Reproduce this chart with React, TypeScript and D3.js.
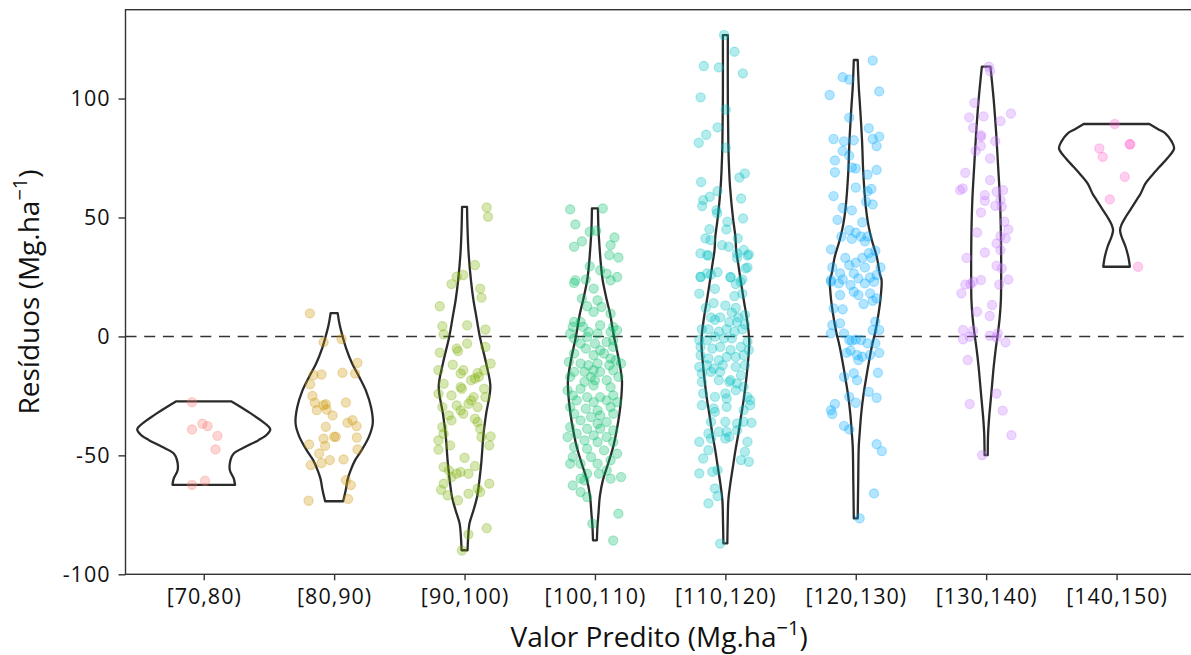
import { useEffect, useRef } from "react";
import * as d3 from "d3";

const categories = ["[70,80)", "[80,90)", "[90,100)", "[100,110)", "[110,120)", "[120,130)", "[130,140)", "[140,150)"];
const palette = ["#F8766D", "#CD9600", "#7CAE00", "#00BE67", "#00BFC4", "#00A9FF", "#C77CFF", "#FF61CC"];
const yTicks = [-100, -50, 0, 50, 100];

// violin outlines: [residual, half width in % of a category step]
const violin70 = [[-27.3, 21], [-29.6, 28], [-33.1, 38], [-36.6, 47], [-39.1, 51], [-41.5, 48], [-43.6, 42], [-46.4, 32], [-49.2, 23], [-52, 20.5], [-56.2, 20], [-59.7, 23], [-62.4, 24]];
const violin80 = [[9.8, 2.7], [5, 4.2], [0, 6.5], [-5, 9.2], [-11.4, 13.8], [-17, 19.2], [-22.6, 24.2], [-30, 28.4], [-36.6, 29.6], [-42, 26.8], [-47.8, 21.1], [-52, 16.1], [-56.2, 12.7], [-60, 10.4], [-64.6, 8.9], [-69.3, 6.9]];
const violin90 = [[54.5, 1.9], [45, 2.3], [35, 3.1], [23.7, 4.9], [15, 6.9], [9.7, 8.6], [0, 11.7], [-11.4, 16.6], [-21.2, 19.8], [-32.4, 16.6], [-40.8, 14.6], [-53.4, 12.8], [-60, 11.5], [-67.5, 9.6], [-73, 6.9], [-78.6, 3.8], [-85, 2.7], [-89.9, 2.3]];
const violin100 = [[53.8, 2.3], [45, 2.7], [37.7, 3.5], [30, 4.6], [23.7, 5.9], [15, 9.2], [9.7, 11.5], [0, 14.6], [-10, 18.4], [-18.4, 20.7], [-25, 20.3], [-32.4, 18.8], [-40, 16.5], [-46.4, 14], [-53, 10.4], [-60.4, 6.1], [-67, 3.8], [-74.4, 2.7], [-80, 1.9], [-85.7, 1.5]];
const violin110 = [[126.7, 1.9], [100, 1.9], [80, 2.3], [70, 2.9], [62.9, 3.6], [50, 5.8], [41.9, 7.7], [36.3, 8.3], [30, 10], [22.3, 12.1], [15, 14.2], [8.2, 16.3], [-1.6, 18.3], [-12.8, 17], [-20, 15.6], [-26.8, 14], [-34, 11.9], [-40.8, 10], [-48, 7.7], [-54.8, 5.8], [-62, 3.8], [-68.8, 2.3], [-78, 1.8], [-87, 1.5]];
const violin120 = [[116.2, 1.5], [105, 2.3], [96.6, 3.3], [82.5, 4.8], [68.5, 5.8], [54.5, 7.7], [47, 9.6], [40.5, 12.3], [33.5, 16.1], [26.5, 18.4], [23.7, 19.8], [17, 19.2], [9.7, 17.5], [2, 15], [-4.3, 12.3], [-11, 10], [-18.4, 7.7], [-25, 5.8], [-32.4, 4.2], [-40, 3.1], [-46.4, 2.3], [-60.4, 1.9], [-76.5, 1.5]];
const violin130 = [[113.4, 3.3], [99.3, 5.8], [85.3, 7.7], [71.3, 9.2], [57.3, 10.6], [43.3, 11.3], [29.3, 11.5], [15.3, 11.3], [8, 10.4], [1.3, 9], [-5, 7.4], [-12.7, 5.8], [-20, 4.6], [-26.8, 3.5], [-34, 2.3], [-40.8, 1.5], [-49.9, 1.2]];
const violin140 = [[89.3, 25.2], [87, 32.2], [85.3, 37.6], [82, 42.2], [79, 44.1], [75, 39.1], [71.3, 33], [68, 27.6], [64.3, 22.2], [60, 18.4], [57.3, 15.3], [54, 11.5], [50.3, 7.1], [47, 3.8], [44.7, 2.7], [42, 3.8], [37.7, 6.9], [33, 9.2], [29.3, 10.2]];

// jittered residuals: [horizontal jitter in % of a category step, residual]
const pts70 = [[-9, -27.6], [-9, -39.1], [-1, -36.7], [3, -37.7], [10.5, -41.8], [9, -47.5], [1, -60.7], [-9, -62.4]];
const pts80 = [[-18.6, 9.7], [-8.1, -2.4], [5.7, -1.1], [17.9, -11.1], [-15.8, -16.3], [-9.7, -16], [6.4, -15.3], [16.1, -15.6], [-18.4, -20.1], [-16.6, -25], [-14.8, -27.9], [-8.1, -28.9], [-6.4, -28.5], [-5.8, -30.7], [-13.3, -31], [9, -27.8], [-1.2, -33.2], [14.1, -35.2], [10.3, -36.3], [17.2, -37.7], [-6.4, -38], [0, -42.2], [1.3, -42.2], [-8.1, -43], [17.4, -42.5], [-19.2, -45.4], [-6.9, -46], [17.9, -47.5], [-11.5, -49.2], [-3.3, -52], [-9.7, -53.2], [7.2, -51.7], [-17.9, -54.1], [9, -60.4], [12.8, -62.5], [-19.6, -69.1], [10.7, -68.3]];
const pts90 = [[17, 54.2], [18, 50.3], [8, 30], [-6, 25.1], [-10, 22], [-1, 25.8], [12, 20.1], [13, 16.3], [-19, 12.7], [-17, 4.3], [-16, 0.9], [2, 4.7], [16, 2.9], [2, -3], [-6, -5.1], [-5, -6.2], [16, -4.4], [-19, -6.8], [20, -11.4], [-9, -11.9], [-20, -14.2], [-1, -14.2], [-3, -15.6], [10, -15.4], [5, -18.4], [8, -17.7], [11, -17], [15, -14.2], [-16, -19.9], [-3, -21.3], [-2, -22], [15, -22], [16, -25.5], [-20, -24.1], [-10, -24.8], [5, -26.9], [7, -25.5], [3, -28.3], [-17, -29.7], [-6, -29], [-3, -31.1], [10, -29.7], [-1, -32.5], [-12, -33.2], [-10, -35.3], [8, -34.6], [10, -36], [-17, -38.1], [12, -38.8], [20, -42], [-16, -40.9], [13, -42.3], [-20, -43.7], [-20, -47.6], [-11, -45.8], [19, -45.8], [0, -51], [8, -54.5], [-16, -54.9], [-12, -56.3], [-6, -57.7], [-3, -57], [3, -57.7], [-10, -59.1], [-16, -61.9], [19, -61.9], [-18, -64.5], [10, -64], [12, -65.4], [-13, -66.8], [3, -66.1], [-5, -68.9], [17, -80.6], [3, -83.2], [-2, -90]];
const pts100 = [[-19, 53.4], [6, 53.8], [-15, 47.1], [-4, 44], [1, 44.4], [-10, 40], [-16, 37.7], [15, 41.6], [12, 38.4], [11, 34.2], [18, 33.2], [-4, 29.5], [4, 27.8], [9, 26.4], [17, 25], [-15, 23.6], [-7, 23.9], [-16, 22.5], [12, 23.6], [-1, 20.1], [-10, 15.9], [2, 15.2], [-6, 12.7], [5, 12.4], [-1, 10.3], [12, 9.6], [-16, 6.1], [-11, 6.1], [-17, 4], [-9, 4], [4, 4.7], [14, 4], [-5, 1.9], [2, 1.2], [12, 1.9], [17, 2.6], [-19, 1.2], [-16, -0.9], [-6, -0.2], [-11, -3], [0, -3], [9, -2.3], [14, -1.6], [-7, -5.1], [4, -5.8], [14, -4.4], [-16, -7.2], [-1, -7.9], [7, -7.2], [12, -9.3], [16, -10], [-20, -10.7], [-11, -11.4], [-5, -12.1], [2, -11.4], [11, -12.1], [20, -11.4], [-16, -14.9], [-8, -14.9], [-1, -14.2], [4, -14.9], [14, -14.2], [-19, -17], [-3, -17], [0, -18.4], [-8, -19.1], [9, -18.4], [18, -17], [-21, -22.7], [-11, -22], [-1, -20.6], [12, -21.3], [-17, -24.8], [-6, -25.5], [4, -25.5], [14, -24.8], [-14, -26.9], [-1, -27.6], [9, -26.9], [17, -27.6], [-19, -29.7], [-7, -30.4], [2, -31.1], [12, -29.7], [-16, -32.5], [-3, -33.9], [4, -33.2], [14, -32.5], [-11, -35.3], [2, -36.7], [9, -36], [-19, -38.1], [-6, -38.8], [4, -38.8], [14, -39.5], [-14, -40.9], [-1, -41.6], [9, -42.3], [-21, -42.3], [-8, -43.7], [2, -44.4], [14, -44.4], [-16, -46.5], [-6, -47.2], [7, -47.9], [17, -49.3], [-17, -50.7], [-3, -50.7], [12, -52.1], [-11, -53.5], [2, -53.5], [-19, -53.5], [9, -56.3], [-6, -57.7], [3, -57.7], [-11, -59.8], [-17, -62.6], [-8, -60.5], [12, -59.8], [20, -59.1], [-11, -65.4], [-6, -67.5], [-2, -78.7], [18, -74.5], [14, -85.8]];
const pts110 = [[-1, 126.7], [7, 119.7], [-16.5, 113.7], [-5, 113.1], [13.4, 110.6], [-19, 100.5], [0.3, 95.4], [-6, 87.9], [-14.7, 84.8], [-20.4, 81.4], [0.3, 79.3], [10.8, 66.8], [14.9, 68.5], [-18.6, 64.9], [-6, 61.1], [-12, 58.7], [-17, 57.3], [-17.8, 54.8], [12.1, 58], [-6.8, 53.1], [-6.3, 51.7], [13.6, 49.6], [1.6, 48.2], [-12.2, 45.1], [0.8, 45], [-15.3, 41.2], [-11.4, 40.5], [9.5, 41.2], [-2.5, 38.4], [2.6, 37.7], [-19.1, 34.9], [14.1, 36.3], [18, 34.5], [-14, 34.2], [9, 34.9], [15.4, 28.6], [-19, 25.1], [-14, 26.5], [4, 24.8], [11.6, 23],
  [-13, 34], [17, 34], [9, 33], [17, 29], [-19, 25], [-11, 26], [-6, 27], [4, 25], [13, 24], [8, 22], [-20, 18], [-8, 20], [7, 17], [13, 18], [-15, 12], [-9, 14], [0, 13], [8, 12], [5, 10], [10, 8], [15, 9], [-11, 8], [-8, 7], [-4, 8], [3, 6], [9, 6], [15, 5], [-18, 3], [-13, 3], [-5, 2], [1, 3], [7, 2], [13, 3], [-20, -1.5], [-14, -1.5], [-8, -0.1], [-1, -0.8], [5, -0.8], [17, -2.2], [-19, -4.4], [-10, -5.1], [-4, -4.4], [4, -5.7], [12, -4.4], [18, -5.7], [-19, -7.9], [-13, -9.3], [-5, -10], [1, -8.6], [8, -8.6], [14, -7.9], [-20, -12.8], [-14, -12.1], [-9, -13.5], [-2, -12.1], [8, -12.8], [15, -12.1], [-18, -15.6], [-11, -14.9], [-4, -14.9], [4, -18.4], [12, -16.3], [-18, -19.1], [-5, -18.4], [3, -19.1], [9, -19.8], [14, -21.2], [-17, -24], [-8, -25.4], [0, -24], [1, -26.1], [8, -22.6], [17, -25.4], [19, -26.8], [-18, -28.9], [-9, -30.3], [-8, -31.7], [1, -29.6], [14, -31], [19, -28.9], [-11, -35.9], [0, -35.9], [9, -36.6], [14, -35.9], [20, -36.3], [-13, -40.8], [-5, -40.1], [1, -40.1], [9, -39.4], [-20, -44.3], [-11, -42.9], [0, -42.9], [3, -42.2], [17, -44.3], [-13, -47.8], [15, -48.5], [12, -52], [-17, -51.3], [18, -52.7], [-20, -57.6], [-10, -56.9], [-6, -56.2], [-8, -63.9], [-6, -67.1], [-13, -70.2], [-4, -87.1]];
const pts120 = [[13, 116], [-10, 109], [-5, 108], [-20, 101.5], [18, 103], [-5, 92], [10, 87.5], [-17, 83], [-9, 82], [-1.5, 82.5], [13, 83], [18, 84], [16, 80], [-10, 78], [-5, 76], [-16, 74], [-3, 71], [0, 70.6], [-16, 69], [16, 70], [9, 68], [0, 62.6], [12, 62], [9, 61], [-17, 59], [-10, 54], [-3, 53], [8, 56.6], [13, 55.5], [-14, 49], [5, 48], [-5, 44.7], [0, 43.6], [-3, 41], [-11, 42], [4, 42], [9, 42], [-19, 36.6], [7, 40], [15, 36], [-8, 33], [5, 33], [10, 35], [12, 33], [-18, 29], [-5, 30], [0, 31], [7, 29], [19, 29], [-12, 26.5], [-1.5, 26.5], [-19, 23.7], [-10, 24], [2, 24.4], [11, 24.8], [16, 25.8],
  [-19, 23], [-13, 22.3], [-4, 21.6], [7, 22.3], [14, 23], [-12, 17.4], [-1.5, 18.8], [2, 17.4], [11, 18.1], [16, 16], [-17, 11.8], [-10, 11.4], [6, 13.6], [13, 15], [-18, 4.8], [-12, 5.5], [15, 6.2], [-19, 1.3], [-9, 1.3], [0, -1.3], [4, -1.5], [13, 2.7], [18, 2.7], [-5, -1.5], [-3, -1.8], [9, -2.9], [15, -2.9], [-7, -6.9], [-4, -6], [1, -7.8], [5, -8.5], [11, -7.8], [18, -6.9], [2, -9.9], [-9, -17], [-1.5, -15.5], [1, -18.4], [17, -15.3], [10, -23.3], [-5, -25.4], [16, -25.8], [-16, -28.4], [-19, -31], [-18, -32.6], [0, -27.9], [-9, -37.6], [-5, -39.1], [16, -45.3], [20, -48.2], [14, -66], [3, -76.5]];
const pts130 = [[2, 113.4], [3, 111.5], [-9, 98.2], [19, 93.7], [-13, 92.1], [-2, 92.5], [11, 90.5], [-10, 87.7], [-4, 84.6], [-4, 83.9], [-4, 80.1], [7, 82.1], [-8, 78], [3, 74.8], [-16, 68.8], [3, 65.7], [-20, 61.5], [-18, 62.2], [8, 60.8], [13, 61.5], [-1, 59.4], [-1, 57], [11, 57.3], [7, 54.9], [12, 54.5], [-4, 52.1], [14, 48.2], [17, 45], [11, 42.2], [15, 41.2], [-7, 43.7], [8, 39.1], [11, 36.3], [-1, 35.3], [-15, 33], [8, 29.7], [12, 28.6], [-4, 23.7], [17, 23.9], [-10, 23], [-12, 22], [10, 21.8], [-16, 21.8], [-19, 18.1],
  [4.5, 13.2], [-7, 10.4], [2.7, 8.6], [-17.7, 2.7], [-10, 2.4], [-17.7, -1.2], [-12.6, -0.1], [2.7, 0.3], [8.9, 1.3], [7.9, -0.4], [14.8, -2.5], [-14.1, -9.9], [7.9, -24], [-12.6, -28.4], [12.7, -31.2], [19.4, -41.5], [-3.1, -49.9]];
const pts140 = [[-1.4, 89.3], [-13.2, 79], [-10.6, 75.5], [10.1, 80.8], [10.5, 80.8], [6.3, 67.1], [-5.2, 57.6], [16.5, 29.3]];

const violins = [violin70, violin80, violin90, violin100, violin110, violin120, violin130, violin140];
const points = [pts70, pts80, pts90, pts100, pts110, pts120, pts130, pts140];

const font = "'Open Sans', 'Noto Sans', sans-serif";

export default function App() {
  const ref = useRef<SVGSVGElement>(null);

  useEffect(() => {
    document.body.style.margin = "0";
    const width = 1191;
    const height = 655;
    const left = 125.5;
    const right = 1194.8;
    const top = 9.7;
    const bottom = 574.3;

    const svg = d3.select(ref.current);
    svg.selectAll("*").remove();
    svg.attr("width", width).attr("height", height);

    const x = d3.scalePoint<string>().domain(categories).range([left, right]).padding(0.6);
    const step = x.step();
    const y = d3.scaleLinear().domain([-100, 137.35]).range([bottom, top]);

    // zero reference line
    svg.append("line")
      .attr("x1", left).attr("x2", right)
      .attr("y1", y(0)).attr("y2", y(0))
      .attr("stroke", "#333").attr("stroke-width", 1.5)
      .attr("stroke-dasharray", "11 7.7");

    // violins
    const area = d3.area<number[]>()
      .y((d) => y(d[0]))
      .curve(d3.curveCatmullRom.alpha(0.5));

    violins.forEach((v, i) => {
      const cx = x(categories[i])!;
      svg.append("path")
        .datum(v)
        .attr("d", area.x0((d) => cx - (d[1] / 100) * step).x1((d) => cx + (d[1] / 100) * step)(v) as string)
        .attr("fill", "none")
        .attr("stroke", "#2b2b2b")
        .attr("stroke-width", 2.3)
        .attr("stroke-linejoin", "round");
    });

    // jittered points
    points.forEach((p, i) => {
      const cx = x(categories[i])!;
      svg.append("g")
        .selectAll("circle")
        .data(p)
        .join("circle")
        .attr("cx", (d) => cx + (d[0] / 100) * step)
        .attr("cy", (d) => y(d[1]))
        .attr("r", 4.6)
        .attr("fill", palette[i])
        .attr("fill-opacity", 0.3)
        .attr("stroke", palette[i])
        .attr("stroke-opacity", 0.3)
        .attr("stroke-width", 1.2);
    });

    // panel outline / axes
    svg.append("rect")
      .attr("x", left).attr("y", top)
      .attr("width", right - left).attr("height", bottom - top)
      .attr("fill", "none").attr("stroke", "#333").attr("stroke-width", 1.4);

    const yAxis = svg.append("g").attr("transform", `translate(${left},0)`)
      .call(d3.axisLeft(y).tickValues(yTicks).tickSize(7).tickPadding(8).tickFormat((d) => String(d)));
    const xAxis = svg.append("g").attr("transform", `translate(0,${bottom})`)
      .call(d3.axisBottom(x).tickSize(6).tickPadding(8));
    [yAxis, xAxis].forEach((a) => {
      a.select(".domain").remove();
      a.selectAll(".tick line").attr("stroke", "#333").attr("stroke-width", 1.4);
      a.selectAll(".tick text")
        .attr("fill", "#111")
        .style("font-family", font)
        .style("font-size", "21.5px")
        .style("letter-spacing", "1px");
    });

    // axis titles
    const xt = svg.append("text")
      .attr("x", (left + right) / 2 - 1).attr("y", 647)
      .attr("text-anchor", "middle")
      .style("font-family", font).style("font-size", "28px").attr("fill", "#111");
    xt.append("tspan").text("Valor Predito (Mg.ha");
    xt.append("tspan").attr("dy", -12).style("font-size", "20px").text("−1");
    xt.append("tspan").attr("dy", 12).text(")");

    const yt = svg.append("text")
      .attr("transform", `translate(38.5,${(top + bottom) / 2}) rotate(-90)`)
      .attr("text-anchor", "middle")
      .style("font-family", font).style("font-size", "28px").attr("fill", "#111");
    yt.append("tspan").text("Resíduos (Mg.ha");
    yt.append("tspan").attr("dy", -12).style("font-size", "20px").text("−1");
    yt.append("tspan").attr("dy", 12).text(")");
  }, []);

  return <svg ref={ref} width={1191} height={655} style={{ display: "block", background: "#fff" }} />;
}
